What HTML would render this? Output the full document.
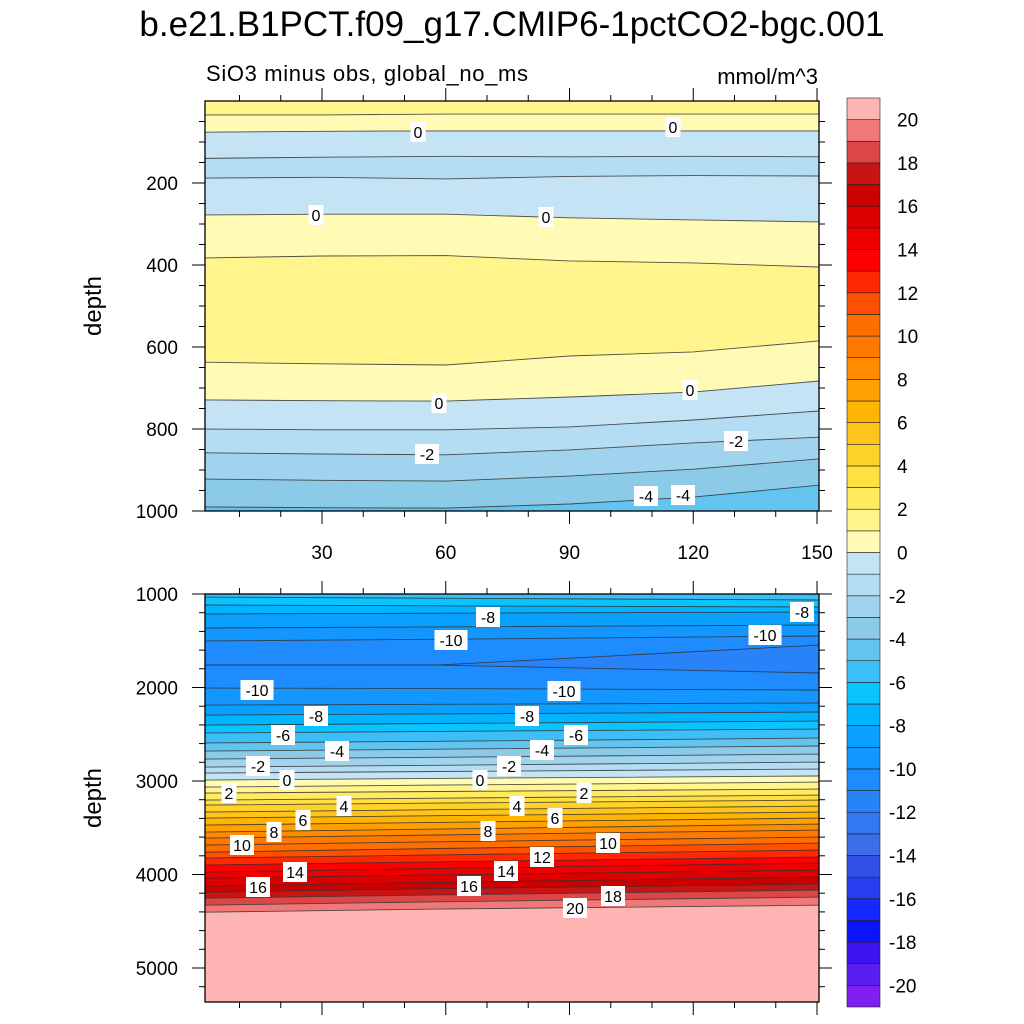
<!DOCTYPE html>
<html><head><meta charset="utf-8"><style>
html,body{margin:0;padding:0;background:#fff;}
svg{display:block;font-family:"Liberation Sans",Arial,sans-serif;}
</style></head><body>
<svg id="chart" width="1024" height="1024" viewBox="0 0 1024 1024">
<text x="512" y="36" font-size="35" text-anchor="middle">b.e21.B1PCT.f09_g17.CMIP6-1pctCO2-bgc.001</text>
<text x="206" y="81" font-size="22" textLength="322">SiO3 minus obs, global_no_ms</text>
<text x="818" y="84" font-size="22" text-anchor="end">mmol/m^3</text>
<g id="topPanel"></g>
<g id="botPanel"></g>
<g id="cbar"></g>
</svg>
<script>
// ---- colour levels (bins from <-20 up to >=20) ----
const levelColors=["#8020f0","#5a1ef0","#3c14f0","#0a14ff","#1428ff","#283cf0","#3250e8","#3c6ee6","#3278f0","#2882f8","#1e8cff","#1496ff","#0aa0ff","#00b4ff","#0ac4ff","#3cbef8","#64c4f0","#8ccbe8","#a0d4ee","#b4dcf2","#c4e4f6","#fffab4","#fff58c","#ffea60","#ffe040","#ffd22a","#ffc41c","#ffb400","#ffa000","#ff8c00","#ff7800","#ff6e00","#ff5000","#ff2800","#ff0000","#ee0000","#dc0000","#cc0000","#c81414","#dc4646","#f07878","#ffb4b4"];
const cbarLabels=[20,18,16,14,12,10,8,6,4,2,0,-2,-4,-6,-8,-10,-12,-14,-16,-18,-20];

// ---- top panel data (contour depths per time column) ----
const topTimes=[1,30,60,90,120,150];
const topBands=[1.5,0.5,-0.5,-1.5,-0.5,0.5,1.5,0.5,-0.5,-1.5,-2.5,-3.5,-4.5];
const topB1=[34,34,32,32,32,32];
const topB2=[76,74,73,73,73,73];
const topB3=[140,137,135,136,135,136];
const topB4=[188,186,190,184,182,183];
const topB5=[278,276,276,285,290,295];
const topB6=[383,378,377,390,395,405];
const topB7=[637,641,644,622,612,585];
const topB8=[729,731,732,722,710,683];
const topB9=[800,802,802,795,778,756];
const topB10=[858,861,863,851,834,820];
const topB11=[922,925,927,915,898,873];
const topB12=[990,992,993,983,966,937];
const topYTicks=[200,400,600,800,1000];
const topXTicks=[30,60,90,120,150];

// ---- bottom panel data ----
const botTimes=[1,58,150];
const botBands=[-5.5,-6.5,-7.5,-8.5,-9.5,-10.5,-11.5,-10.5,-9.5,-8.5,-7.5,-6.5,-5.5,-4.5,-3.5,-2.5,-1.5,-0.5,0.5,1.5,2.5,3.5,4.5,5.5,6.5,7.5,8.5,9.5,10.5,11.5,12.5,13.5,14.5,15.5,16.5,17.5,18.5,19.5,20.5];
const botLeft=[1032,1118,1214,1364,1503,1760,1760,2006,2188,2295,2402,2487,2594,2680,2766,2851,2915,2990,3065,3129,3204,3258,3333,3397,3472,3547,3611,3686,3761,3825,3900,3975,4039,4124,4189,4253,4328,4403];
const botMid=[1045,1126,1205,1352,1485,1760,1760,2012,2180,2282,2385,2470,2575,2660,2746,2832,2898,2972,3044,3112,3184,3236,3307,3371,3443,3514,3578,3650,3722,3790,3864,3935,4004,4084,4152,4218,4292,4370];
const botRight=[1064,1139,1193,1332,1449,1546,1845,2027,2166,2263,2359,2445,2541,2626,2712,2798,2873,2947,3012,3087,3151,3204,3268,3333,3397,3461,3525,3600,3664,3739,3814,3878,3953,4028,4103,4167,4242,4328];
const botYTicks=[1000,2000,3000,4000,5000];

const topLabels=[["0",418,132],["0",673,127],["0",316,215],["0",546,217],["0",439,403],["0",690,390],["-2",427,454],["-2",736,441],["-4",646,496],["-4",683,495]];
const botLabels=[["-8",488,617],["-10",451,640],["-8",802,612],["-10",765,635],["-10",257,690],["-10",564,691],["-8",316,716],["-8",527,716],["-6",283,735],["-6",576,735],["-4",337,751],["-4",542,750],["-2",258,766],["-2",509,766],["0",287,780],["0",480,780],["2",229,793],["2",584,793],["4",344,806],["4",517,806],["6",303,820],["6",555,818],["8",274,832],["8",488,831],["10",242,845],["10",608,843],["12",542,857],["14",295,872],["14",506,871],["16",258,887],["16",469,886],["18",613,896],["20",575,908]];

const NS="http://www.w3.org/2000/svg";
function mk(tag,attrs,parent){const e=document.createElementNS(NS,tag);for(const k in attrs)e.setAttribute(k,attrs[k]);parent.appendChild(e);return e;}
function colorFor(v){let i=Math.floor(v)+21;i=Math.max(0,Math.min(41,i));return levelColors[i];}

const L=205,R=819;
const xScale=t=>198.25+4.125*t;

function drawPanel(g,id,times,bounds,bands,yOf,dTop,dBot,top,bottom){
  const cp=mk('clipPath',{id:id+'clip'},g);
  mk('rect',{x:L,y:top,width:R-L,height:bottom-top},cp);
  const body=mk('g',{'clip-path':'url(#'+id+'clip)'},g);
  const xs=times.map(xScale);xs[0]=Math.min(xs[0],L);xs[xs.length-1]=Math.max(xs[xs.length-1],R);
  const n=bands.length;
  for(let b=0;b<n;b++){
    const up=b===0?times.map(()=>dTop):bounds[b-1];
    const lo=b===n-1?times.map(()=>dBot):bounds[b];
    let pts=[];
    for(let i=0;i<xs.length;i++)pts.push(xs[i].toFixed(1)+','+yOf(up[i]).toFixed(1));
    for(let i=xs.length-1;i>=0;i--)pts.push(xs[i].toFixed(1)+','+yOf(lo[i]).toFixed(1));
    const p=mk('polygon',{points:pts.join(' '),fill:colorFor(bands[b]),stroke:colorFor(bands[b]),'stroke-width':0.6},body);
    
    
  }
  bounds.forEach((bd,k)=>{
    const pts=xs.map((x,i)=>x.toFixed(1)+','+yOf(bd[i]).toFixed(1)).join(' ');
    const l=mk('polyline',{points:pts,fill:'none',stroke:'#333','stroke-width':0.9,'stroke-opacity':0.85},body);
    
    
  });
  const fr=mk('rect',{x:L,y:top,width:R-L,height:bottom-top,fill:'none',stroke:'#000','stroke-width':1.3},g);
  
  
}
function addLabels(g,labels){
  labels.forEach(([t,x,y])=>{
    const w=t.length*9+6;
    mk('rect',{x:x-w/2,y:y-10,width:w,height:20,fill:'#fff'},g);
    const e=mk('text',{x:x,y:y+6,'font-size':16,'text-anchor':'middle'},g);
    e.textContent=t;
    
    
  });
}
function xTicks(g,top,bottom,labelY){
  for(let t=10;t<=150;t+=10){
    const x=xScale(t);const major=t%30===0;const len=major?13:6;
    mk('line',{x1:x,y1:top,x2:x,y2:top-len,stroke:'#000','stroke-width':1},g);
    mk('line',{x1:x,y1:bottom,x2:x,y2:bottom+len,stroke:'#000','stroke-width':1},g);
  }
  if(labelY)topXTicks.forEach(t=>{const e=mk('text',{x:xScale(t),y:labelY,'font-size':19,'text-anchor':'middle'},g);e.textContent=t;
    });
}
function yTicks(g,yOf,minor,majorList,dMin,dMax,step,majStep){
  for(let d=dMin;d<=dMax;d+=step){
    const y=yOf(d);const major=d%majStep===0;const len=major?13:6;
    mk('line',{x1:L,y1:y,x2:L-len,y2:y,stroke:'#000','stroke-width':1},g);
    mk('line',{x1:R,y1:y,x2:R+len,y2:y,stroke:'#000','stroke-width':1},g);
  }
  majorList.forEach(d=>{const e=mk('text',{x:178,y:yOf(d)+7,'font-size':19,'text-anchor':'end'},g);e.textContent=d;
    });
}
function yTitle(g,cy){const e=mk('text',{x:0,y:0,'font-size':24,'text-anchor':'middle',transform:'translate(101,'+cy+') rotate(-90)'},g);e.textContent='depth';
  }

// top
const gT=document.getElementById('topPanel');
const yTop=d=>101+d*0.41;
const topBounds=[topB1,topB2,topB3,topB4,topB5,topB6,topB7,topB8,topB9,topB10,topB11,topB12];
drawPanel(gT,'tp',topTimes,topBounds,topBands,yTop,0,1000,101,511);
addLabels(gT,topLabels);
xTicks(gT,101,511,559);
yTicks(gT,yTop,true,topYTicks,50,1000,50,200);
yTitle(gT,306);

// bottom
const gB=document.getElementById('botPanel');
const yBot=d=>594+(d-1000)*0.0935;
const botBounds=botLeft.map((v,k)=>[botLeft[k],botMid[k],botRight[k]]);
drawPanel(gB,'bp',botTimes,botBounds,botBands,yBot,1000,5370,594,1002);
addLabels(gB,botLabels);
xTicks(gB,594,1002,null);
yTicks(gB,yBot,true,botYTicks,1000,5200,200,1000);
yTitle(gB,798);

// colorbar
const gC=document.getElementById('cbar');
const cTop=98,cBot=1007,bh=(cBot-cTop)/42;
for(let i=0;i<42;i++){
  const r=mk('rect',{x:847,y:cTop+(41-i)*bh,width:33,height:bh,fill:levelColors[i],stroke:'#222','stroke-width':0.6},gC);
  
  
}
cbarLabels.forEach(v=>{const y=cTop+(21-v)*bh;const e=mk('text',{x:897,y:y+7,'font-size':19},gC);e.textContent=v;
  if(v<0)e.setAttribute('x',889);
  });
</script>
</body></html>
